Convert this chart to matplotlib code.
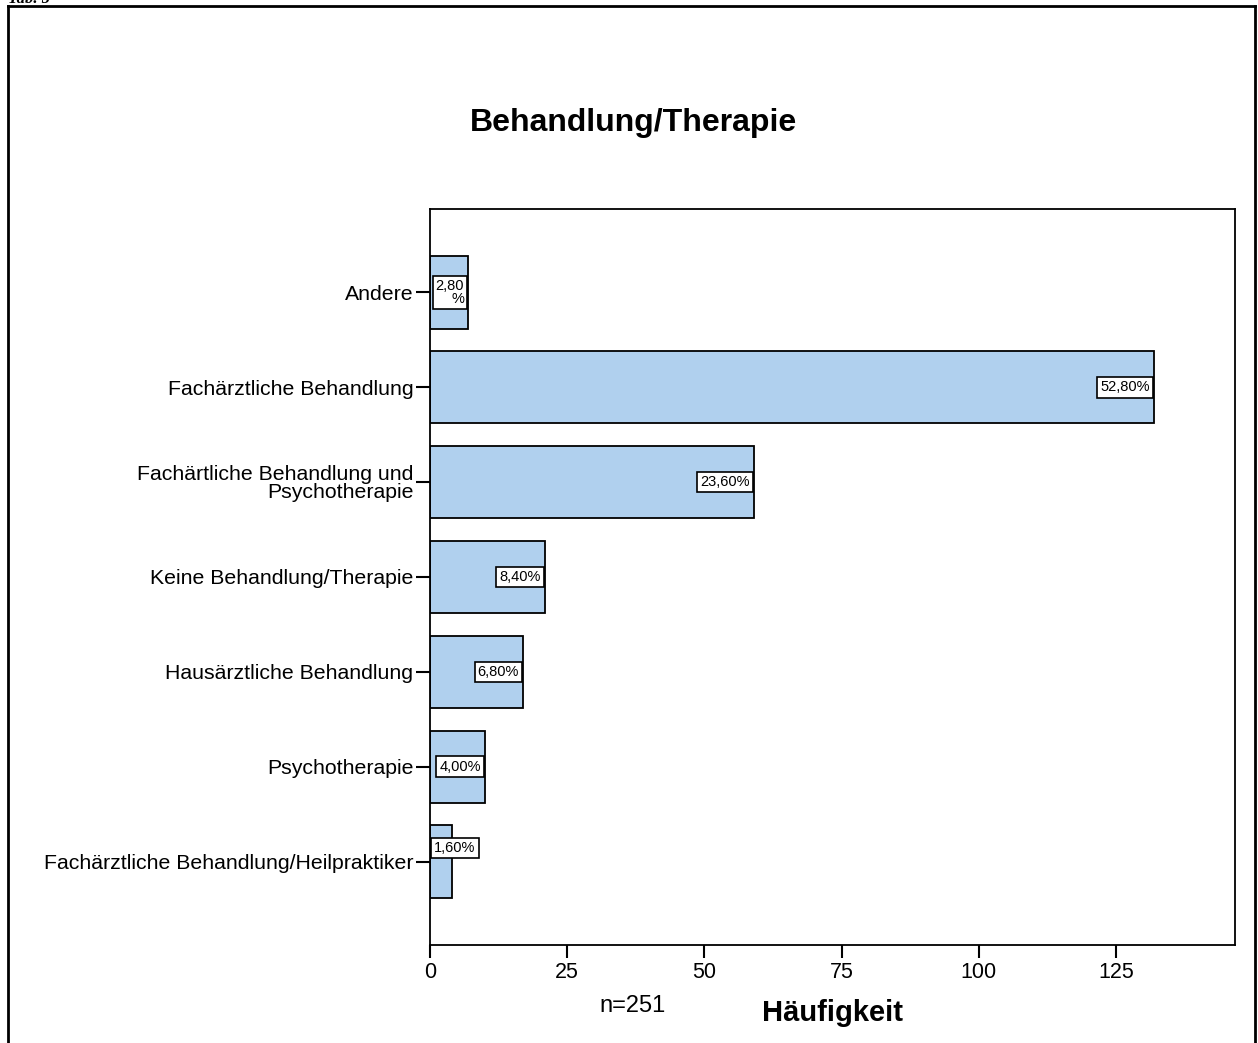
import matplotlib
matplotlib.use("Agg")
import matplotlib.pyplot as plt
from matplotlib.lines import Line2D

plt.rcParams['font.family'] = ['Liberation Sans', 'DejaVu Sans']

categories = [
    "Andere",
    "Fachärztliche Behandlung",
    "Fachärtliche Behandlung und\nPsychotherapie",
    "Keine Behandlung/Therapie",
    "Hausärztliche Behandlung",
    "Psychotherapie",
    "Fachärztliche Behandlung/Heilpraktiker",
]
counts = [7, 132, 59, 21, 17, 10, 4]
pct_labels = ["2,80\n%", "52,80%", "23,60%", "8,40%", "6,80%", "4,00%", "1,60%"]
xticks = [0, 25, 50, 75, 100, 125]

W, H = 1258, 1043
fig = plt.figure(figsize=(W / 100, H / 100), dpi=100)
ax = fig.add_axes([430 / W, 1 - 945 / H, (1235 - 430) / W, (945 - 209) / H])

ypos = list(range(len(categories)))
ax.barh(ypos, counts, height=0.76, color="#B0D0EE", edgecolor="black", linewidth=1.3, zorder=2)

ax.set_ylim(len(categories) - 1 + 0.88, -0.88)
ax.set_xlim(0, 146.7)
ax.set_yticks(ypos)
ax.set_yticklabels(categories, fontsize=15.3, ha="right", linespacing=0.95)
ax.set_xticks(xticks)
ax.set_xticklabels([str(t) for t in xticks], fontsize=15.5)
ax.tick_params(axis="y", direction="out", length=10, width=1.5, pad=2)
ax.tick_params(axis="x", direction="out", length=9.5, width=1.5, pad=3)
for s in ax.spines.values():
    s.set_linewidth(1.3)

ax.set_xlabel("Häufigkeit", fontsize=21, fontweight="bold", labelpad=11)

bbox = dict(boxstyle="square,pad=0.22", facecolor="white", edgecolor="black", linewidth=1.2)
for y, v, lab in zip(ypos, counts, pct_labels):
    if v >= 5:
        ax.annotate(lab, xy=(v, y), xytext=(-3, 0), textcoords="offset points",
                    ha="right", va="center", fontsize=10.5, bbox=bbox, zorder=3,
                    linespacing=0.9, multialignment="right")
    else:
        ax.annotate(lab, xy=(0, y - 0.14), xytext=(3, 0), textcoords="offset points",
                    ha="left", va="center", fontsize=10.5, bbox=bbox, zorder=3)

fig.text(634 / W, 1 - 123 / H, "Behandlung/Therapie", fontsize=23, fontweight="bold",
         ha="center", va="center")
fig.text(633 / W, 1 - 1006 / H, "n=251", fontsize=17, ha="center", va="center")

# outer frame
lw = 2.0
fig.add_artist(Line2D([8 / W, 8 / W], [0, 1 - 6 / H], color="black", lw=lw))
fig.add_artist(Line2D([1255 / W, 1255 / W], [0, 1 - 6 / H], color="black", lw=lw))
fig.add_artist(Line2D([8 / W, 1255 / W], [1 - 6 / H, 1 - 6 / H], color="black", lw=lw))
fig.text(8 / W, 1 - 3 / H, "Tab. 5", fontsize=12, fontweight="bold", fontstyle="italic",
         family=["Liberation Serif", "DejaVu Serif"], ha="left", va="baseline")

fig.savefig("out.png", dpi=100)
